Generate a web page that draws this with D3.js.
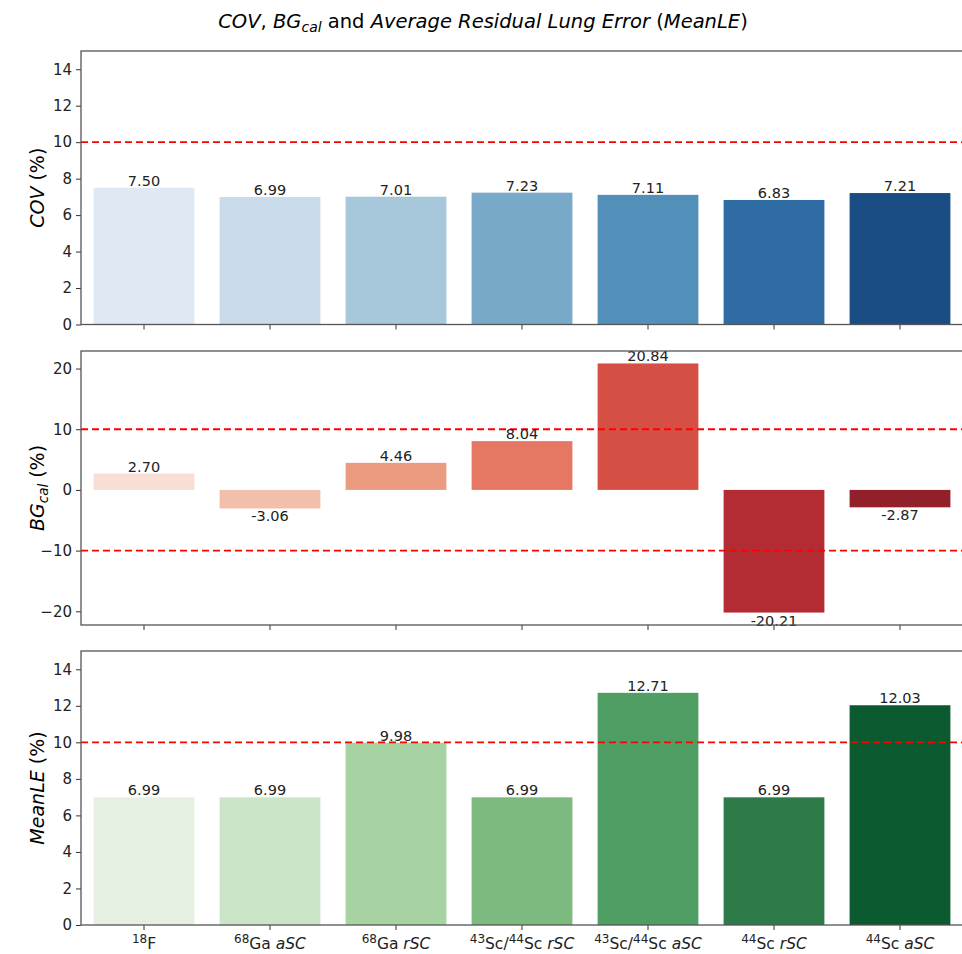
<!DOCTYPE html>
<html><head><meta charset="utf-8">
<script src="https://cdn.jsdelivr.net/npm/d3@7"></script>
<style>body{margin:0;background:#fff;} text{font-family:"DejaVu Sans",sans-serif;}</style>
</head><body>
<svg id="chart" width="962" height="954"></svg>
<script>
const categories = ["18F","68Ga aSC","68Ga rSC","43Sc/44Sc rSC","43Sc/44Sc aSC","44Sc rSC","44Sc aSC"];
// tick label parts: [text, style]
const tickParts = [
  [["18","sup"],["F",""]],
  [["68","sup"],["Ga ",""],["aSC","it"]],
  [["68","sup"],["Ga ",""],["rSC","it"]],
  [["43","sup"],["Sc/",""],["44","sup"],["Sc ",""],["rSC","it"]],
  [["43","sup"],["Sc/",""],["44","sup"],["Sc ",""],["aSC","it"]],
  [["44","sup"],["Sc ",""],["rSC","it"]],
  [["44","sup"],["Sc ",""],["aSC","it"]]
];
const covValues = [7.50, 6.99, 7.01, 7.23, 7.11, 6.83, 7.21];
const bgValues = [2.70, -3.06, 4.46, 8.04, 20.84, -20.21, -2.87];
const meanLEValues = [6.99, 6.99, 9.98, 6.99, 12.71, 6.99, 12.03];
const covColors = ["#dfe9f3","#c9dbea","#a6c8da","#78a9c8","#528fb9","#2f6ca3","#1b4d85"];
const bgColors = ["#f8ded5","#f1bfaa","#eb9b80","#e67762","#d64f45","#b42c33","#92202a"];
const meanLEColors = ["#e5f0e3","#cae5c7","#a7d2a2","#7dba80","#4f9f65","#2e7b4a","#0c5a2f"];
const covTicks = [0,2,4,6,8,10,12,14];
const bgTicks = [-20,-10,0,10,20];
const meanLETicks = [0,2,4,6,8,10,12,14];
const covRef = [10];
const bgRef = [10,-10];
const meanLERef = [10];

const svg = d3.select("#chart");
const x = d3.scaleBand().domain(categories).range([81, 963]).paddingInner(0.2).paddingOuter(0.1);

// Title
const title = svg.append("text").attr("x", 483).attr("y", 28).attr("text-anchor","middle")
  .attr("font-size", 19.5).attr("fill","#000");
title.append("tspan").attr("font-style","italic").text("COV");
title.append("tspan").text(", ");
title.append("tspan").attr("font-style","italic").text("BG");
title.append("tspan").attr("font-style","italic").attr("font-size",14).attr("dy",4).text("cal");
title.append("tspan").attr("dy",-4).text(" and ");
title.append("tspan").attr("font-style","italic").text("Average Residual Lung Error");
title.append("tspan").text(" (");
title.append("tspan").attr("font-style","italic").text("MeanLE");
title.append("tspan").text(")");

function panel(top, bottom, domain, ticks, values, colors, refs, labelFn, showX) {
  const y = d3.scaleLinear().domain(domain).range([bottom, top]);
  const g = svg.append("g");
  g.selectAll("rect.bar").data(values).enter().append("rect")
    .attr("x", (d,i) => x(categories[i]))
    .attr("width", x.bandwidth())
    .attr("y", d => y(Math.max(0,d)))
    .attr("height", d => Math.abs(y(d) - y(0)))
    .attr("fill", (d,i) => colors[i]);
  g.selectAll("line.ref").data(refs).enter().append("line")
    .attr("x1", 81).attr("x2", 962).attr("y1", d => y(d)).attr("y2", d => y(d))
    .attr("stroke", "#ff0000").attr("stroke-width", 1.8).attr("stroke-dasharray","7,4");
  g.selectAll("text.val").data(values).enter().append("text")
    .attr("x", (d,i) => x(categories[i]) + x.bandwidth()/2)
    .attr("y", d => d >= 0 ? y(d) - 2 : y(d) + 13)
    .attr("text-anchor","middle").attr("font-size", 14.5).attr("fill","#222")
    .text(d => d.toFixed(2));
  const ya = d3.axisLeft(y).tickValues(ticks).tickSize(5).tickPadding(4)
    .tickFormat(d => d < 0 ? "\u2212" + Math.abs(d) : String(d));
  const yg = g.append("g").attr("transform","translate(81,0)").call(ya);
  yg.select(".domain").remove();
  yg.selectAll(".tick line").attr("stroke","#333");
  yg.selectAll(".tick text").attr("font-size",15).attr("fill","#222").attr("font-family","DejaVu Sans");
  const xa = d3.axisBottom(x).tickSize(5).tickFormat("");
  const xg = g.append("g").attr("transform",`translate(0,${bottom})`).call(xa);
  xg.select(".domain").remove();
  xg.selectAll(".tick line").attr("stroke","#333");
  if (showX) {
    xg.selectAll(".tick").each(function(d,i){
      const t = d3.select(this).append("text").attr("y", 24).attr("text-anchor","middle")
        .attr("font-size",15.5).attr("fill","#222").attr("font-family","DejaVu Sans");
      let shifted = false;
      tickParts[i].forEach(p => {
        const ts = t.append("tspan").text(p[0]);
        if (p[1] === "sup") { ts.attr("font-size",12).attr("dy", shifted ? 0 : -6); shifted = true; }
        else { if (shifted) ts.attr("dy",6); shifted = false; if (p[1]==="it") ts.attr("font-style","italic"); }
      });
    });
  }
  g.append("rect").attr("x",81).attr("y",top).attr("width",882).attr("height",bottom-top)
    .attr("fill","none").attr("stroke","#555").attr("stroke-width",1.3);
  const lbl = g.append("text").attr("transform",`translate(44,${(top+bottom)/2}) rotate(-90)`)
    .attr("text-anchor","middle").attr("font-size",19).attr("fill","#000");
  labelFn(lbl);
}

panel(51, 324.5, [0,15], covTicks, covValues, covColors, covRef, t => {
  t.append("tspan").attr("font-style","italic").text("COV");
  t.append("tspan").text(" (%)");
}, false);
panel(351, 625, [-22.26, 22.89], bgTicks, bgValues, bgColors, bgRef, t => {
  t.append("tspan").attr("font-style","italic").text("BG");
  t.append("tspan").attr("font-style","italic").attr("font-size",13.5).attr("dy",4).text("cal");
  t.append("tspan").attr("dy",-4).text(" (%)");
}, false);
panel(651, 925, [0,15], meanLETicks, meanLEValues, meanLEColors, meanLERef, t => {
  t.append("tspan").attr("font-style","italic").text("MeanLE");
  t.append("tspan").text(" (%)");
}, true);
</script>
</body></html>
